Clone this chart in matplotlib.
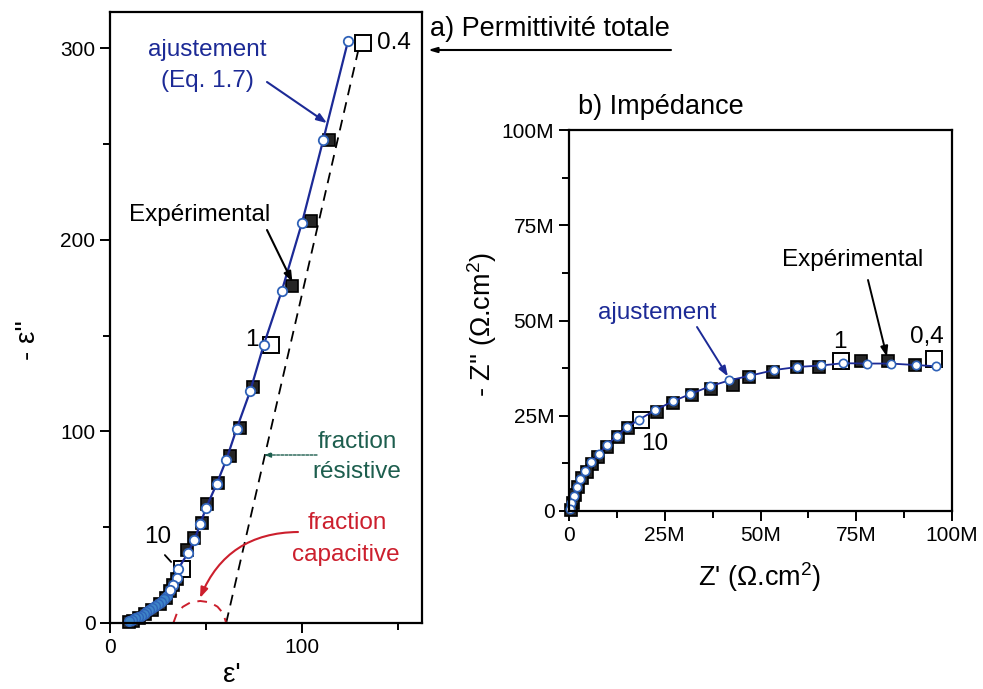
import matplotlib.pyplot as plt
from matplotlib.ticker import MultipleLocator, FuncFormatter

plt.rcParams['font.family'] = ['Liberation Sans', 'DejaVu Sans']
plt.rcParams['mathtext.fontset'] = 'custom'
plt.rcParams['mathtext.rm'] = 'Liberation Sans'
plt.rcParams['mathtext.it'] = 'Liberation Sans'
plt.rcParams['mathtext.default'] = 'regular'

# a) permittivite : experimental points (filled squares)
eps_exp_re = [114, 104.5, 95, 74.7, 67.7, 62.5, 56, 50.5, 48, 44, 40,
              35, 33, 31, 29, 26, 22, 18, 15, 12, 10]
eps_exp_im = [252, 210, 176, 123, 102, 87, 73, 62, 52, 44.5, 38,
              23, 20, 16.5, 13, 10, 7, 4.5, 2.5, 1, 0.3]
# decade frequencies (open squares)
eps_dec_re = [132, 84, 37.5]
eps_dec_im = [303, 145, 28]
eps_dec_lab = ['0.4', '1', '10']
# fit (Eq. 1.7)
eps_fit_re = [124, 111, 100, 89.5, 80, 73, 66, 60.5, 55.5, 50, 47, 44,
              40.6, 35.4, 35, 33, 31]
eps_fit_im = [304, 252, 209, 173.5, 145, 121, 101.5, 85, 72.5, 60, 51.7,
              43.5, 36.6, 28, 23.5, 20, 17]
# fit, dense high frequency tail
eps_hf_re = [29.5, 28, 26.5, 25, 23.5, 22, 20.5, 19, 17.5, 16, 14.5, 13, 11.5, 10]
eps_hf_im = [14, 12.5, 11, 10, 8.8, 7.7, 6.6, 5.6, 4.7, 3.9, 3.1, 2.4, 1.7, 1.1]
# resistive fraction (dashed line)
res_re = [60.5, 130]
res_im = [0, 302]
# capacitive fraction (red dashed arc)
cap_re = [33, 35, 38, 42, 47, 52, 56, 59, 60.5]
cap_im = [0, 5.5, 8.5, 10.8, 11.5, 10.8, 8.5, 5, 0]

# b) impedance (M ohm.cm2)
z_exp_re = [90.4, 83.3, 76.3, 65.4, 59.6, 53.2, 47.1, 42.7, 37, 32, 27.1, 22.9,
            15.4, 12.8, 9.8, 7.6, 6, 4.7, 3.4, 2.3, 1.6, 1, 0.5]
z_exp_im = [38.2, 39.3, 39.3, 37.7, 37.7, 36.4, 35.3, 33.2, 31.9, 30.4, 28.3, 26,
            21.7, 19.4, 16.8, 14.1, 12.3, 10.2, 8.6, 6.3, 4.2, 2, 0.3]
z_dec_re = [95.3, 71, 18.7]
z_dec_im = [40, 39.3, 23.8]
z_dec_lab = ['0,4', '1', '10']
z_fit_re = [95.8, 90.6, 84, 77.9, 71.6, 65.9, 59.6, 53.6, 47.2, 41.9, 36.7, 31.5,
            27.1, 22.4, 18.3, 15.2, 12.6, 9.9, 7.8, 5.8, 4.2, 3, 2, 1.2, 0.6, 0.2]
z_fit_im = [38, 38.3, 38.7, 38.7, 38.8, 38.2, 37.8, 37, 35.5, 34.3, 32.7, 30.6,
            28.8, 26.4, 24, 22, 19.8, 17.3, 15, 12.8, 10.5, 8.5, 6.3, 4, 2, 0.5]

W, H = 983, 689
BLUE = '#1c2a96'
CIRC = '#2f62b8'
GREEN = '#1d5e4e'
RED = '#cc1f2d'


def fxy(px, py):
    # pixel position -> figure fraction
    return (px / W, 1 - py / H)


fig = plt.figure(figsize=(W / 100, H / 100), dpi=100)
ax1 = fig.add_axes([110 / W, 1 - 623 / H, 312 / W, 611 / H])
ax2 = fig.add_axes([569 / W, 1 - 511 / H, 383 / W, 381 / H])

for ax in (ax1, ax2):
    for s in ax.spines.values():
        s.set_linewidth(1.6)
    ax.tick_params(which='both', direction='out', width=1.4, labelsize=15)
    ax.tick_params(which='major', length=7)
    ax.tick_params(which='minor', length=5)

# ---- a) permittivity
ax1.plot(res_re, res_im, color='black', ls=(0, (6, 4)), lw=1.3)
ax1.plot(cap_re, cap_im, color=RED, ls=(0, (5, 4)), lw=1.4)
ax1.plot(eps_exp_re, eps_exp_im, 's', ms=8.5, mfc='#262626', mec='black',
         mew=1.2, clip_on=False)
ax1.plot(eps_dec_re, eps_dec_im, 's', ms=12, mfc='white', mec='black',
         mew=1.4, clip_on=False)
ax1.plot(eps_fit_re + eps_hf_re, eps_fit_im + eps_hf_im, '-', color=BLUE, lw=1.6)
ax1.plot(eps_hf_re, eps_hf_im, 'o', ms=7, mfc='#3f86c8', mec=CIRC, mew=1.0,
         clip_on=False)
ax1.plot(eps_fit_re, eps_fit_im, 'o', ms=6.8, mfc='white', mec=CIRC, mew=1.3,
         clip_on=False)

ax1.set_xlim(0, 162.5)
ax1.set_ylim(0, 319)
ax1.xaxis.set_major_locator(MultipleLocator(100))
ax1.xaxis.set_minor_locator(MultipleLocator(50))
ax1.yaxis.set_major_locator(MultipleLocator(100))
ax1.yaxis.set_minor_locator(MultipleLocator(50))

fig.text(*fxy(28, 340), "- ε''", fontsize=20, rotation=90, ha='center', va='center')
fig.text(*fxy(232, 675), "ε'", fontsize=20, ha='center', va='center')

fig.text(*fxy(377, 43), eps_dec_lab[0], fontsize=17.5, ha='left', va='center')
fig.text(*fxy(252, 340), eps_dec_lab[1], fontsize=17.5, ha='center', va='center')
fig.text(*fxy(158, 537), eps_dec_lab[2], fontsize=17.5, ha='center', va='center')
ax1.annotate('', xy=fxy(173, 564), xytext=fxy(163, 553), xycoords='figure fraction',
             arrowprops=dict(arrowstyle='-', lw=1.3, color='black'))

fig.text(*fxy(207, 50), 'ajustement', fontsize=17.5, color=BLUE, ha='center', va='center')
fig.text(*fxy(207, 81), '(Eq. 1.7)', fontsize=17.5, color=BLUE, ha='center', va='center')
ax1.annotate('', xy=(113, 261), xycoords='data', xytext=fxy(267, 82),
             textcoords='figure fraction',
             arrowprops=dict(arrowstyle='-|>,head_length=0.6,head_width=0.22',
                             color=BLUE, lw=1.5, shrinkA=0, shrinkB=0))

fig.text(*fxy(200, 215), 'Expérimental', fontsize=17.5, ha='center', va='center')
ax1.annotate('', xy=(95, 178), xycoords='data', xytext=fxy(267, 230),
             textcoords='figure fraction',
             arrowprops=dict(arrowstyle='-|>,head_length=0.6,head_width=0.22',
                             color='black', lw=1.5, shrinkA=0, shrinkB=0))

fig.text(*fxy(357, 442), 'fraction', fontsize=17.5, color=GREEN, ha='center', va='center')
fig.text(*fxy(357, 472), 'résistive', fontsize=17.5, color=GREEN, ha='center', va='center')
ax1.annotate('', xy=fxy(264, 455), xytext=fxy(317, 455), xycoords='figure fraction',
             arrowprops=dict(arrowstyle='-|>,head_length=0.4,head_width=0.15',
                             color=GREEN, lw=1.0, ls=(0, (2, 1)),
                             shrinkA=0, shrinkB=0))

fig.text(*fxy(347, 523), 'fraction', fontsize=17.5, color=RED, ha='center', va='center')
fig.text(*fxy(346, 555), 'capacitive', fontsize=17.5, color=RED, ha='center', va='center')
ax1.annotate('', xy=fxy(200, 598), xytext=fxy(298, 532), xycoords='figure fraction',
             arrowprops=dict(arrowstyle='-|>,head_length=0.6,head_width=0.22',
                             color=RED, lw=1.5, shrinkA=0, shrinkB=0,
                             connectionstyle='arc3,rad=0.33'))

fig.text(*fxy(430, 29), 'a) Permittivité totale', fontsize=19.5, ha='left', va='center')
ax1.annotate('', xy=fxy(428, 50), xytext=fxy(671, 50), xycoords='figure fraction',
             arrowprops=dict(arrowstyle='-|>,head_length=0.5,head_width=0.15',
                             color='black', lw=1.5, shrinkA=0, shrinkB=0),
             annotation_clip=False)

# ---- b) impedance
ax2.plot(z_exp_re, z_exp_im, 's', ms=8, mfc='#262626', mec='black',
         mew=1.2, clip_on=False)
ax2.plot(z_dec_re, z_dec_im, 's', ms=11, mfc='white', mec='black',
         mew=1.4, clip_on=False)
ax2.plot(z_fit_re, z_fit_im, '-o', color=BLUE, lw=1.3, ms=6, mfc='white',
         mec=CIRC, mew=1.2, clip_on=False)

ax2.set_xlim(0, 100)
ax2.set_ylim(0, 100)
mfmt = FuncFormatter(lambda v, p: '0' if v == 0 else '%gM' % v)
for axis in (ax2.xaxis, ax2.yaxis):
    axis.set_major_locator(MultipleLocator(25))
    axis.set_minor_locator(MultipleLocator(12.5))
    axis.set_major_formatter(mfmt)

fig.text(*fxy(482, 325), "- Z'' (Ω.cm$^2$)", fontsize=19.5, rotation=90,
         ha='center', va='center')
fig.text(*fxy(760, 577), "Z' (Ω.cm$^2$)", fontsize=19.5, ha='center', va='center')
fig.text(*fxy(578, 107), 'b) Impédance', fontsize=19.5, ha='left', va='center')

fig.text(*fxy(840, 342), z_dec_lab[1], fontsize=17.5, ha='center', va='center')
fig.text(*fxy(927, 337), z_dec_lab[0], fontsize=17.5, ha='center', va='center')
fig.text(*fxy(655, 444), z_dec_lab[2], fontsize=17.5, ha='center', va='center')

fig.text(*fxy(657, 313), 'ajustement', fontsize=17.5, color=BLUE, ha='center', va='center')
ax2.annotate('', xy=(41.5, 35.3), xycoords='data', xytext=fxy(697, 327),
             textcoords='figure fraction',
             arrowprops=dict(arrowstyle='-|>,head_length=0.6,head_width=0.22',
                             color=BLUE, lw=1.4, shrinkA=0, shrinkB=0))
fig.text(*fxy(853, 260), 'Expérimental', fontsize=17.5, ha='center', va='center')
ax2.annotate('', xy=(83, 40.5), xycoords='data', xytext=fxy(868, 280),
             textcoords='figure fraction',
             arrowprops=dict(arrowstyle='-|>,head_length=0.6,head_width=0.22',
                             color='black', lw=1.4, shrinkA=0, shrinkB=0))

fig.savefig('out.png', dpi=100)
